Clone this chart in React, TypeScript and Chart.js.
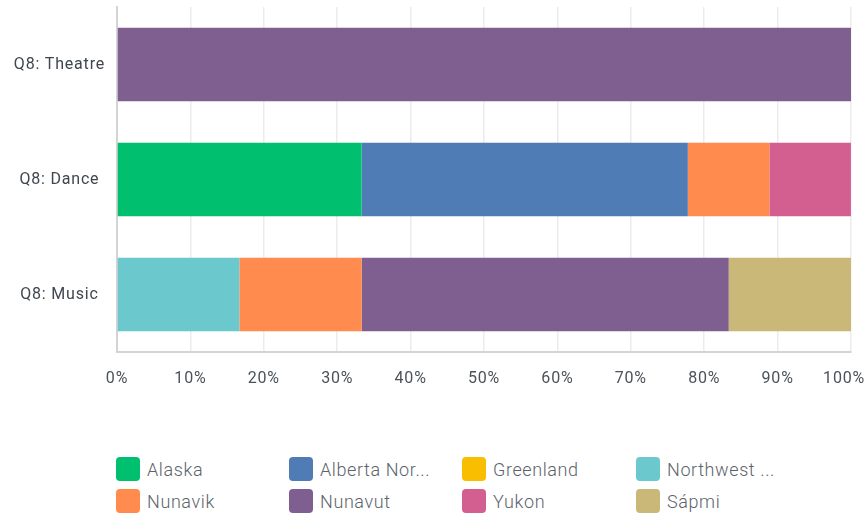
import React, { useEffect, useRef } from 'react';
import { Chart, registerables } from 'chart.js';

Chart.register(...registerables);

const categories = ['Q8: Theatre', 'Q8: Dance', 'Q8: Music'];
const seriesNames = ['Alaska', 'Alberta Nor...', 'Greenland', 'Northwest ...', 'Nunavik', 'Nunavut', 'Yukon', 'Sápmi'];
const seriesColors = ['#00bf6f', '#507cb6', '#f9be00', '#6bc8cd', '#ff8b4f', '#7f5f90', '#d25f90', '#c9b877'];

const alaska = [0, 33.33, 0];
const alberta = [0, 44.44, 0];
const greenland = [0, 0, 0];
const northwest = [0, 0, 16.67];
const nunavik = [0, 11.11, 16.67];
const nunavut = [100, 0, 50];
const yukon = [0, 11.11, 0];
const sapmi = [0, 0, 16.67];

const xTickValues = [0, 10, 20, 30, 40, 50, 60, 70, 80, 90, 100];
const xTickLabels = ['0%', '10%', '20%', '30%', '40%', '50%', '60%', '70%', '80%', '90%', '100%'];

const seriesValues = [alaska, alberta, greenland, northwest, nunavik, nunavut, yukon, sapmi];

const FONT = 'Roboto, "Noto Sans", sans-serif';

const textPlugin = {
  id: 'textTweaks',
  beforeLayout(chart: any) {
    chart.ctx.letterSpacing = '0.8px';
  },
  beforeDraw(chart: any) {
    chart.ctx.letterSpacing = '0.8px';
  },
  afterDraw(chart: any) {
    const ctx = chart.ctx;
    const xs = chart.scales.x;
    ctx.save();
    ctx.letterSpacing = '0.8px';
    ctx.font = '16px ' + FONT;
    ctx.fillStyle = '#4b5259';
    ctx.textBaseline = 'middle';
    ctx.textAlign = 'left';
    xTickValues.forEach((v, i) => {
      const label = xTickLabels[i];
      const w = ctx.measureText(label).width;
      let x = xs.getPixelForValue(v) - w / 2;
      x = Math.min(x, chart.width - w - 1);
      ctx.fillText(label, x, 379);
    });
    ctx.restore();
  },
};

export default function App() {
  const ref = useRef<HTMLCanvasElement | null>(null);

  useEffect(() => {
    if (!ref.current) return;
    const chart = new Chart(ref.current, {
      type: 'bar',
      data: {
        labels: categories,
        datasets: seriesNames.map((name, i) => ({
          label: name,
          data: seriesValues[i],
          backgroundColor: seriesColors[i],
          borderWidth: 0,
          barPercentage: 0.8,
          categoryPercentage: 0.8,
        })),
      },
      options: {
        indexAxis: 'y',
        animation: false,
        responsive: false,
        maintainAspectRatio: false,
        layout: { padding: { top: 7, right: 15, left: 0, bottom: 0 } },
        plugins: {
          legend: { display: false },
          tooltip: { enabled: false },
        },
        scales: {
          x: {
            stacked: true,
            min: 0,
            max: 100,
            ticks: { display: false, stepSize: 10 },
            grid: { color: '#ececec', lineWidth: 1.5, drawTicks: false },
            border: { display: true, color: '#d4d4d4', width: 2 },
            afterFit: (scale: any) => {
              scale.height = 48;
            },
          },
          y: {
            stacked: true,
            ticks: {
              font: { size: 16, family: FONT, lineHeight: 0.2 },
              color: '#3f464e',
              crossAlign: 'center',
              padding: 12,
            },
            grid: { display: false, drawTicks: false },
            border: { display: true, color: '#d4d4d4', width: 2 },
            afterFit: (scale: any) => {
              scale.width = 117;
              scale.paddingTop = 0;
              scale.paddingBottom = 0;
            },
          },
        },
      },
      plugins: [textPlugin],
    } as any);
    return () => chart.destroy();
  }, []);

  const colLeft = [116, 289, 462, 636];
  const rowTop = [457, 489];

  return (
    <div style={{ position: 'fixed', left: 0, top: 0, width: 866, height: 514, background: '#fff', overflow: 'hidden' }}>
      <canvas ref={ref} width={866} height={400} style={{ display: 'block', width: 866, height: 400 }} />
      {seriesNames.map((name, i) => {
        const col = i % 4;
        const row = Math.floor(i / 4);
        return (
          <div
            key={name}
            style={{
              position: 'absolute',
              left: colLeft[col],
              top: rowTop[row],
              height: 24,
              display: 'flex',
              alignItems: 'center',
              whiteSpace: 'nowrap',
            }}
          >
            <span
              style={{
                display: 'inline-block',
                width: 24,
                height: 24,
                borderRadius: 4,
                background: seriesColors[i],
                marginRight: 7,
              }}
            />
            <span
              style={{
                fontFamily: FONT,
                fontSize: 18,
                fontWeight: 300,
                letterSpacing: '0.6px',
                color: '#5b636b',
              }}
            >
              {name}
            </span>
          </div>
        );
      })}
    </div>
  );
}
